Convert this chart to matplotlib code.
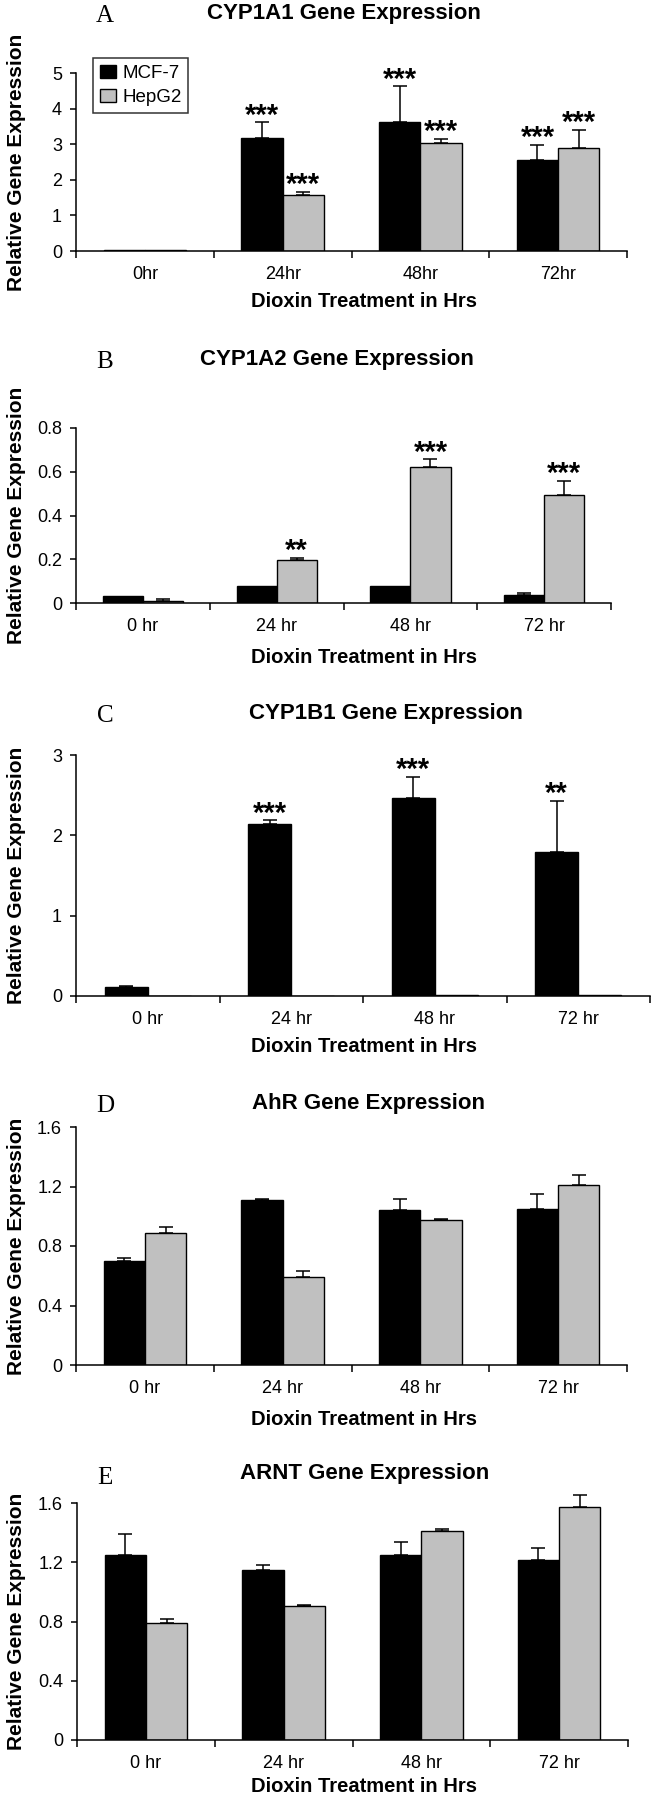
import matplotlib
matplotlib.use("Agg")
import matplotlib.pyplot as plt
import numpy as np

# --- data ---
hours_a = ["0hr", "24hr", "48hr", "72hr"]
hours = ["0 hr", "24 hr", "48 hr", "72 hr"]

cyp1a1_mcf7 = [0.02, 3.17, 3.61, 2.55]
cyp1a1_mcf7_err = [0, 0.44, 1.02, 0.43]
cyp1a1_hepg2 = [0.02, 1.56, 3.02, 2.88]
cyp1a1_hepg2_err = [0, 0.11, 0.14, 0.53]
cyp1a1_stars_mcf7 = ["", "***", "***", "***"]
cyp1a1_stars_hepg2 = ["", "***", "***", "***"]

cyp1a2_mcf7 = [0.030, 0.076, 0.076, 0.035]
cyp1a2_mcf7_err = [0, 0, 0, 0.011]
cyp1a2_hepg2 = [0.011, 0.196, 0.624, 0.496]
cyp1a2_hepg2_err = [0.007, 0.010, 0.033, 0.062]
cyp1a2_stars_mcf7 = ["", "", "", ""]
cyp1a2_stars_hepg2 = ["", "**", "***", "***"]

cyp1b1_mcf7 = [0.11, 2.14, 2.46, 1.79]
cyp1b1_mcf7_err = [0.015, 0.05, 0.27, 0.64]
cyp1b1_hepg2 = [0, 0, 0.01, 0.01]
cyp1b1_hepg2_err = [0, 0, 0, 0]
cyp1b1_stars_mcf7 = ["", "***", "***", "**"]
cyp1b1_stars_hepg2 = ["", "", "", ""]

ahr_mcf7 = [0.70, 1.107, 1.043, 1.052]
ahr_mcf7_err = [0.020, 0.009, 0.073, 0.095]
ahr_hepg2 = [0.888, 0.594, 0.976, 1.21]
ahr_hepg2_err = [0.039, 0.037, 0.007, 0.070]

arnt_mcf7 = [1.25, 1.15, 1.25, 1.215]
arnt_mcf7_err = [0.14, 0.03, 0.086, 0.081]
arnt_hepg2 = [0.79, 0.905, 1.41, 1.576]
arnt_hepg2_err = [0.027, 0.007, 0.017, 0.081]

W, H = 651, 1800
SANS = "Liberation Sans"
GRAY = "#c0c0c0"

fig = plt.figure(figsize=(W / 100, H / 100), dpi=100)


def px_axes(left, right, top, bottom):
    return fig.add_axes([left / W, 1 - bottom / H, (right - left) / W, (bottom - top) / H])


def draw_panel(box, letter, title, title_x, xlabel_drop, cats, mcf, mcf_err, hep, hep_err,
               ymax, yticks, yticklabels, stars_mcf=None, stars_hep=None):
    left, right, top, bottom = box
    ax = px_axes(*box)
    centers = np.arange(len(cats)) + 0.5
    bw = 0.3
    x_m = centers - bw / 2
    x_h = centers + bw / 2

    # upward-only error bars
    for x, y, e in ((x_m, mcf, mcf_err), (x_h, hep, hep_err)):
        y = np.array(y, float)
        e = np.array(e, float)
        m = e > 0
        if m.any():
            ax.errorbar(x[m], y[m], yerr=[np.zeros(m.sum()), e[m]], fmt="none", ecolor="black",
                        elinewidth=1.1, capsize=5, capthick=1.1, clip_on=False, zorder=1)

    ax.bar(x_m, mcf, bw, color="black", edgecolor="black", linewidth=1, label="MCF-7", zorder=2)
    ax.bar(x_h, hep, bw, color=GRAY, edgecolor="black", linewidth=1, label="HepG2", zorder=2)

    # significance stars
    for stars, x, y, e in ((stars_mcf, x_m, mcf, mcf_err), (stars_hep, x_h, hep, hep_err)):
        if stars is None:
            continue
        for s, xi, yi, ei in zip(stars, x, y, e):
            if s:
                ax.annotate(s, (xi, yi + ei), xytext=(0, -1), textcoords="offset points",
                            ha="center", va="baseline", fontsize=21, fontweight="bold",
                            family=SANS, annotation_clip=False)

    ax.set_xlim(0, len(cats))
    ax.set_ylim(0, ymax)
    ax.set_xticks(np.arange(len(cats) + 1))
    ax.set_xticklabels([])
    ax.set_xticks(centers, minor=True)
    ax.set_xticklabels(cats, minor=True, fontsize=13, family=SANS)
    ax.tick_params(axis="x", which="major", direction="out", length=5, width=1.1)
    ax.tick_params(axis="x", which="minor", length=0, pad=11)
    ax.set_yticks(yticks)
    ax.set_yticklabels(yticklabels, fontsize=13, family=SANS)
    ax.tick_params(axis="y", direction="out", length=4, width=1.1, pad=6)
    for sp in ("top", "right"):
        ax.spines[sp].set_visible(False)
    for sp in ("left", "bottom"):
        ax.spines[sp].set_linewidth(1.1)

    ax.set_ylabel("Relative Gene Expression", fontsize=15, fontweight="bold", family=SANS)
    ax.yaxis.set_label_coords((17 - left) / (right - left), 0.5)
    ax.yaxis.label.set_va("center")

    fig.text(364 / W, 1 - (bottom + xlabel_drop) / H, "Dioxin Treatment in Hrs", fontsize=14.5,
             fontweight="bold", family=SANS, ha="center", va="baseline")
    fig.text(105 / W, 1 - (letter[1] + 8.5) / H, letter[0], fontsize=18,
             family="Liberation Serif", ha="center", va="baseline")
    fig.text(title_x / W, 1 - (title[1] + 6.5) / H, title[0], fontsize=16, fontweight="bold",
             family=SANS, ha="center", va="baseline")
    return ax


ax_a = draw_panel((76, 627, 73, 251), ("A", 13), ("CYP1A1 Gene Expression", 12), 344, 56,
                  hours_a, cyp1a1_mcf7, cyp1a1_mcf7_err, cyp1a1_hepg2, cyp1a1_hepg2_err,
                  5, [0, 1, 2, 3, 4, 5], ["0", "1", "2", "3", "4", "5"],
                  cyp1a1_stars_mcf7, cyp1a1_stars_hepg2)
leg = ax_a.legend(loc="upper left", bbox_to_anchor=(93 / W, 1 - 58 / H),
                  bbox_transform=fig.transFigure, prop={"family": SANS, "size": 13.5},
                  frameon=True, fancybox=False, edgecolor="black", handlelength=0.85,
                  handleheight=0.75, handletextpad=0.35, borderpad=0.35, labelspacing=0.35,
                  borderaxespad=0)
leg.get_frame().set_linewidth(1.1)

draw_panel((76, 611, 428, 603), ("B", 360), ("CYP1A2 Gene Expression", 358), 337, 60,
           hours, cyp1a2_mcf7, cyp1a2_mcf7_err, cyp1a2_hepg2, cyp1a2_hepg2_err,
           0.8, [0, 0.2, 0.4, 0.6, 0.8], ["0", "0.2", "0.4", "0.6", "0.8"],
           cyp1a2_stars_mcf7, cyp1a2_stars_hepg2)

draw_panel((76, 650, 755, 996), ("C", 713), ("CYP1B1 Gene Expression", 712), 386, 56,
           hours, cyp1b1_mcf7, cyp1b1_mcf7_err, cyp1b1_hepg2, cyp1b1_hepg2_err,
           3, [0, 1, 2, 3], ["0", "1", "2", "3"],
           cyp1b1_stars_mcf7, cyp1b1_stars_hepg2)

draw_panel((76, 627, 1127, 1365), ("D", 1103), ("AhR Gene Expression", 1102), 369, 60,
           hours, ahr_mcf7, ahr_mcf7_err, ahr_hepg2, ahr_hepg2_err,
           1.6, [0, 0.4, 0.8, 1.2, 1.6], ["0", "0.4", "0.8", "1.2", "1.6"])

draw_panel((77, 628, 1503, 1740), ("E", 1475), ("ARNT Gene Expression", 1473), 365, 52,
           hours, arnt_mcf7, arnt_mcf7_err, arnt_hepg2, arnt_hepg2_err,
           1.6, [0, 0.4, 0.8, 1.2, 1.6], ["0", "0.4", "0.8", "1.2", "1.6"])

fig.savefig("out.png", dpi=100)
